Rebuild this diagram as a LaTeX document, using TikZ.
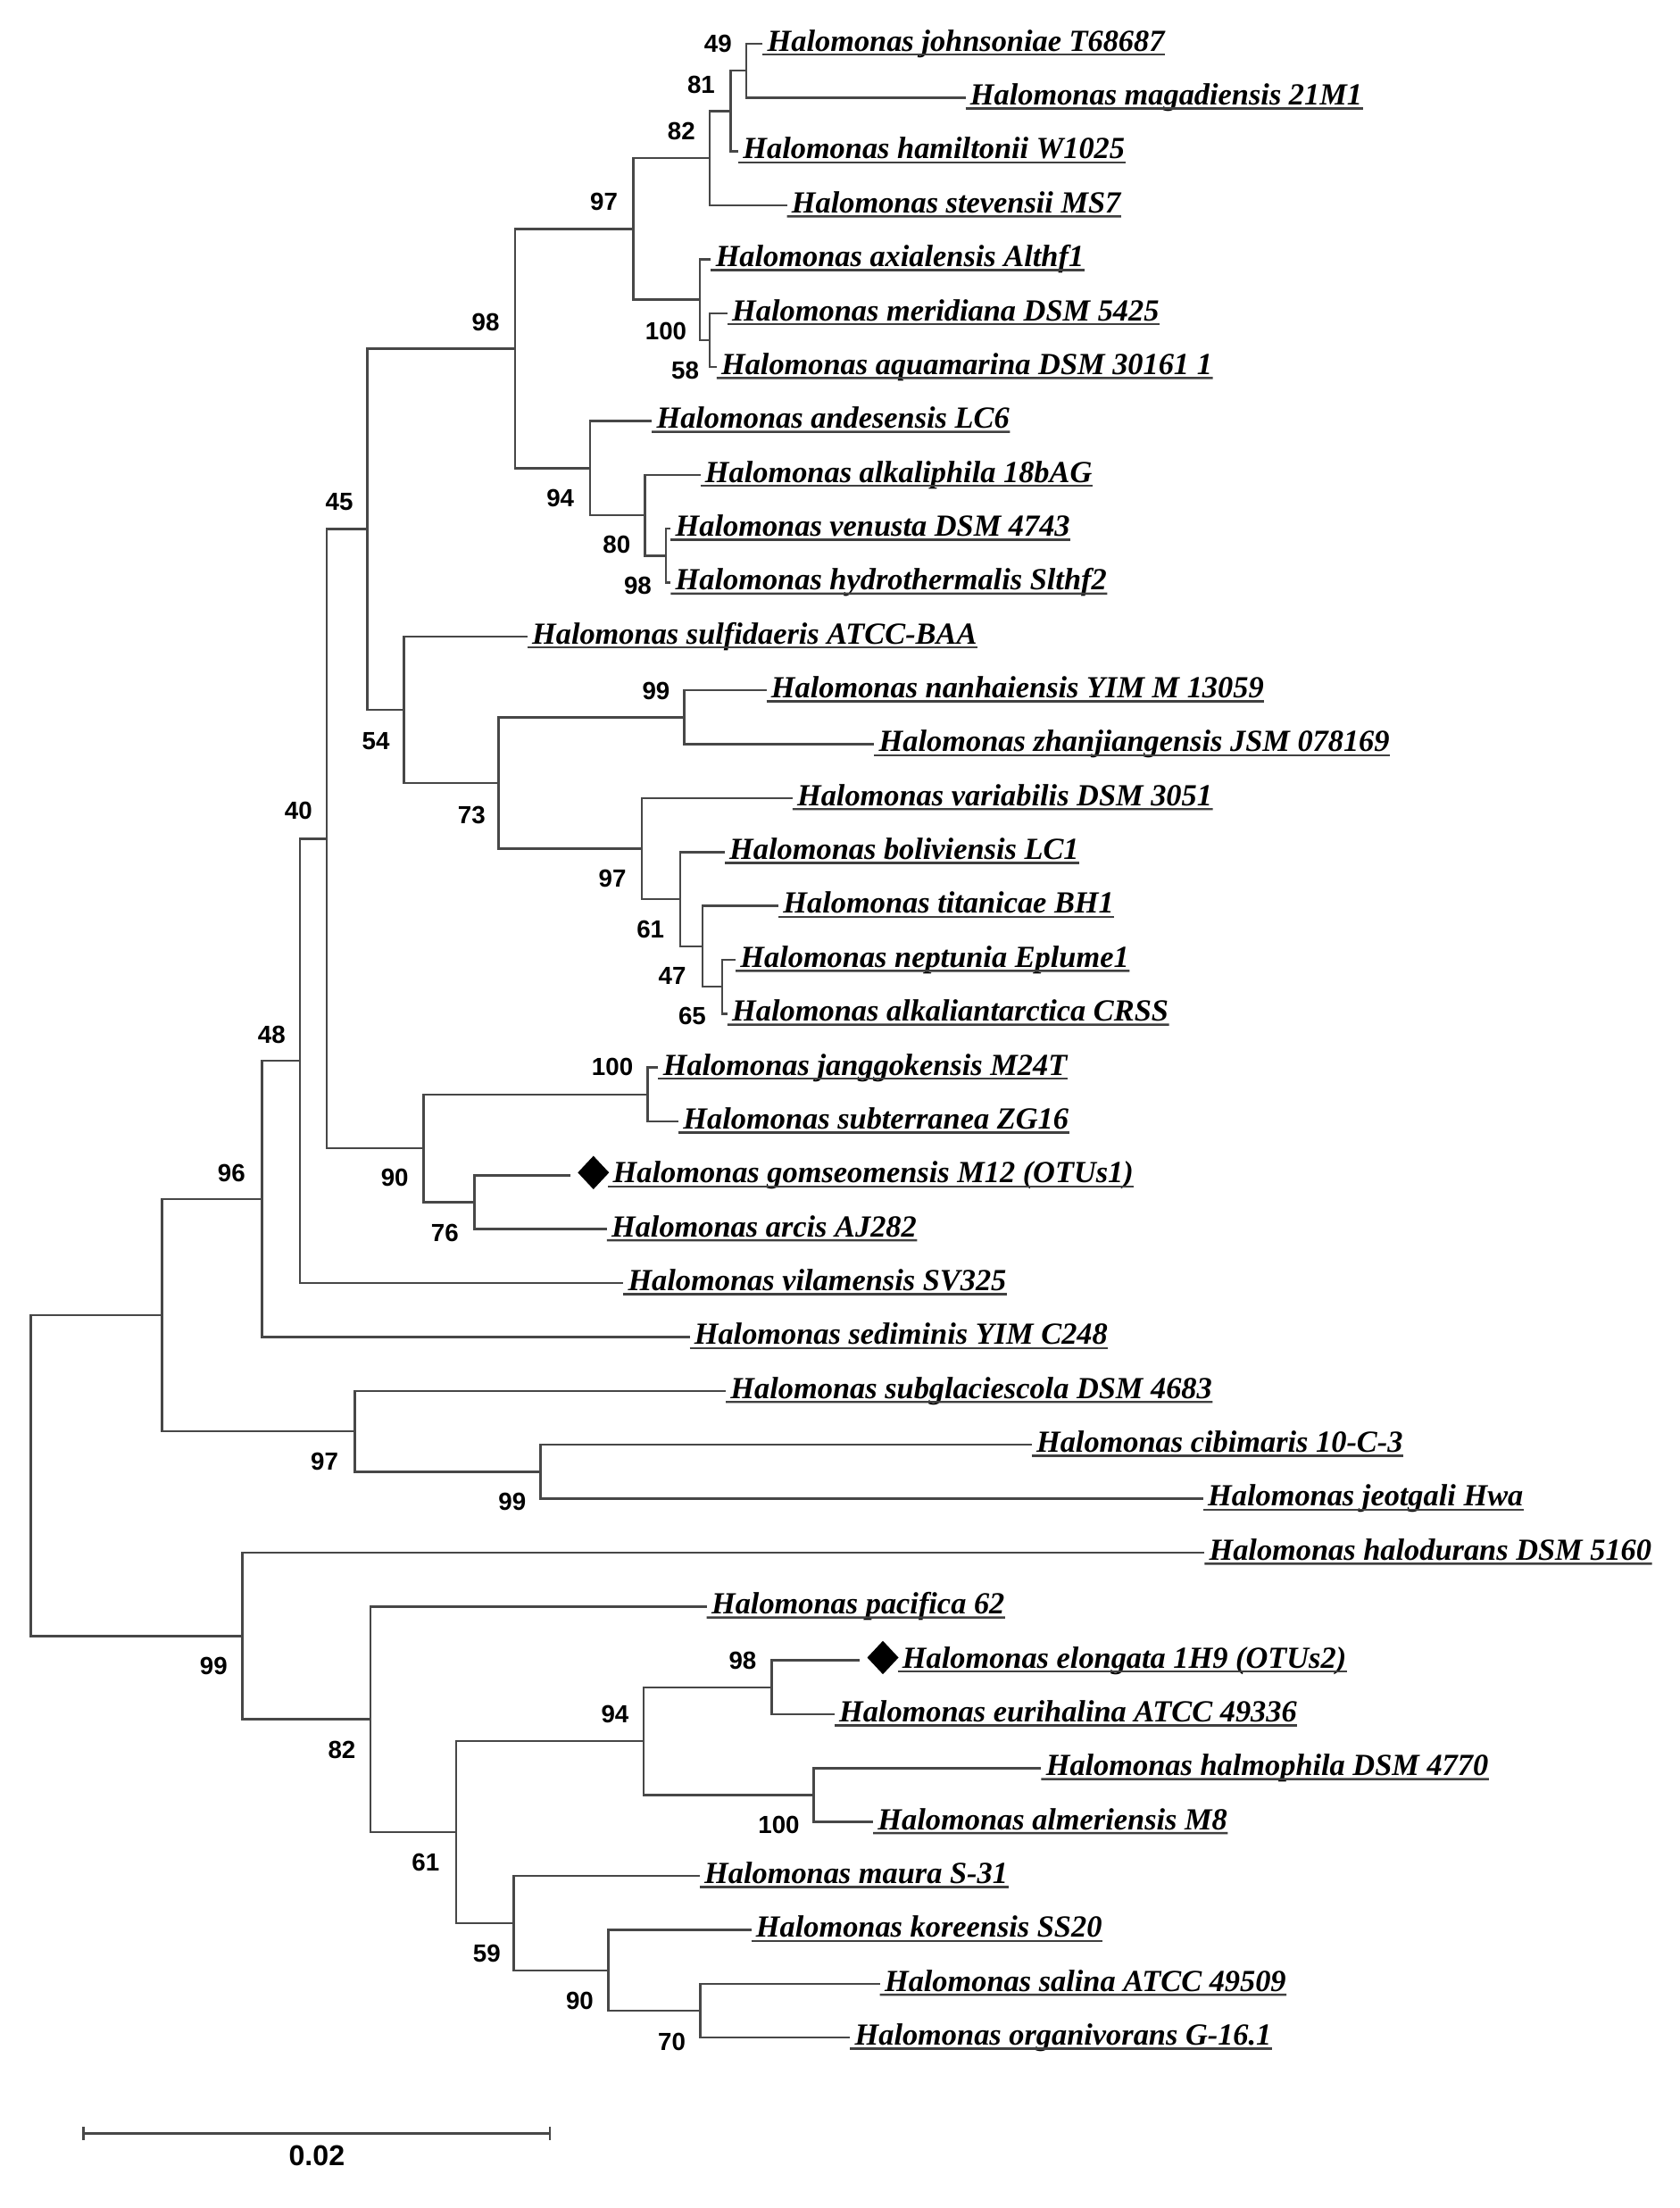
\documentclass[tikz,border=0pt]{standalone}
\usepackage{fontspec}
\setmainfont{Liberation Serif}
\newfontfamily\bsfont{Liberation Sans}
\usetikzlibrary{calc,shapes.geometric}
\tikzset{
  br/.style={draw=black!72, line width=0.9pt},
  leaflab/.style={anchor=base west, inner sep=0pt, font=\fontsize{12.4pt}{14pt}\selectfont\bfseries\itshape},
  uline/.style={draw=black!75, line width=0.9pt},
  boot/.style={inner sep=0pt, font=\bsfont\fontsize{10pt}{11pt}\selectfont\bfseries},
  scalelab/.style={inner sep=0pt, font=\bsfont\fontsize{11.6pt}{13pt}\selectfont\bfseries},
  dia/.style={diamond, fill=black, draw=none, inner sep=0pt, minimum width=0.45cm, minimum height=0.48cm}
}
% leaf: name, branch-end x, y, text
\newcommand\leafnode[4]{%
  \coordinate (#1) at (#2,#3);
  \node[leaflab] (#1-t) at (#2+3,#3+5.3) {Halomonas #4};
  \draw[uline] ($(#1)+(0,7.8)$) -- ($(#1-t.base east)+(0,2.5)$);
}
% marked leaf with a diamond
\newcommand\markleaf[4]{%
  \coordinate (#1) at (#2,#3);
  \node[dia] (#1-d) at (#2+16.5,#3-2) {};
  \node[leaflab] (#1-t) at (#2+30,#3+5.3) {Halomonas #4};
  \draw[uline] ($(#1-t.base west)+(-3,2.5)$) -- ($(#1-t.base east)+(0,2.5)$);
}
% clade: parent, child 1, child 2
\newcommand\clade[3]{\draw[br] (#2) -| (#1) |- (#3);}
\begin{document}
\begin{tikzpicture}[x=0.02cm,y=-0.02cm]
\useasboundingbox (0,0) rectangle (1193,1568);
\fill[white] (0,0) rectangle (1193,1568);
% leaves
\leafnode{joh}{541.7}{31.0}{johnsoniae T68687}
\leafnode{mag}{685.8}{69.3}{magadiensis 21M1}
\leafnode{ham}{524.4}{107.5}{hamiltonii W1025}
\leafnode{ste}{559}{145.8}{stevensii MS7}
\leafnode{axi}{505}{184.1}{axialensis Althf1}
\leafnode{mer}{516.7}{222.4}{meridiana DSM 5425}
\leafnode{aqu}{509}{260.6}{aquamarina DSM 30161 1}
\leafnode{ande}{463}{298.9}{andesensis LC6}
\leafnode{alk}{497.5}{337.2}{alkaliphila 18bAG}
\leafnode{ven}{476.4}{375.4}{venusta DSM 4743}
\leafnode{hyd}{476.4}{413.7}{hydrothermalis Slthf2}
\leafnode{sul}{374.6}{452.0}{sulfidaeris ATCC-BAA}
\leafnode{nan}{544.4}{490.2}{nanhaiensis YIM M 13059}
\leafnode{zha}{621}{528.5}{zhanjiangensis JSM 078169}
\leafnode{var}{562.9}{566.8}{variabilis DSM 3051}
\leafnode{bol}{514.8}{605.1}{boliviensis LC1}
\leafnode{tit}{553}{643.3}{titanicae BH1}
\leafnode{nep}{522.5}{681.6}{neptunia Eplume1}
\leafnode{aan}{516.7}{719.9}{alkaliantarctica CRSS}
\leafnode{jan}{467.6}{758.1}{janggokensis M24T}
\leafnode{sub}{482}{796.4}{subterranea ZG16}
\markleaf{gom}{405}{834.7}{gomseomensis M12 (OTUs1)}
\leafnode{arc}{431}{872.9}{arcis AJ282}
\leafnode{vil}{442.7}{911.2}{vilamensis SV325}
\leafnode{sed}{489.8}{949.5}{sediminis YIM C248}
\leafnode{sgl}{515.6}{987.8}{subglaciescola DSM 4683}
\leafnode{cib}{732.8}{1026.0}{cibimaris 10-C-3}
\leafnode{jeo}{854.6}{1064.3}{jeotgali Hwa}
\leafnode{hdu}{855.5}{1102.6}{halodurans DSM 5160}
\leafnode{pac}{502}{1140.8}{pacifica 62}
\markleaf{elo}{610.6}{1179.1}{elongata 1H9 (OTUs2)}
\leafnode{eur}{592.7}{1217.4}{eurihalina ATCC 49336}
\leafnode{hal}{739.6}{1255.6}{halmophila DSM 4770}
\leafnode{alm}{620.2}{1293.9}{almeriensis M8}
\leafnode{mau}{497}{1332.2}{maura S-31}
\leafnode{kor}{533.6}{1370.5}{koreensis SS20}
\leafnode{sal}{625}{1408.7}{salina ATCC 49509}
\leafnode{org}{603.8}{1447.0}{organivorans G-16.1}
% internal nodes
\coordinate (n49) at (530,50.15);
\coordinate (n81) at (519,78.8);
\coordinate (n82a) at (504,112.3);
\coordinate (n58) at (504,241.5);
\coordinate (n100a) at (497,212.8);
\coordinate (n97a) at (450,162.55);
\coordinate (n98b) at (473,394.55);
\coordinate (n80) at (458,365.9);
\coordinate (n94a) at (419,332.4);
\coordinate (n98a) at (366,247.5);
\coordinate (n99a) at (486,509.35);
\coordinate (n65) at (513,700.75);
\coordinate (n47) at (499,672.0);
\coordinate (n61a) at (483,638.55);
\coordinate (n97b) at (456,602.7);
\coordinate (n73) at (354,556.0);
\coordinate (n54) at (287,504.0);
\coordinate (n45) at (261,375.75);
\coordinate (n100b) at (460,777.25);
\coordinate (n76) at (337,853.8);
\coordinate (n90a) at (301,815.5);
\coordinate (n40) at (232,595.6);
\coordinate (n48) at (213,753.4);
\coordinate (n96) at (186,851.45);
\coordinate (n99b) at (384,1045.15);
\coordinate (n97c) at (252,1016.5);
\coordinate (nA) at (115,934.0);
\coordinate (n98c) at (548,1198.25);
\coordinate (n100c) at (578,1274.75);
\coordinate (n94b) at (457,1236.5);
\coordinate (n70) at (497.5,1427.85);
\coordinate (n90b) at (432,1399.2);
\coordinate (n59) at (365,1365.7);
\coordinate (n61b) at (324,1301.1);
\coordinate (n82b) at (263,1220.95);
\coordinate (n99c) at (172,1161.8);
\coordinate (root) at (22,1047.9);
% branches
\clade{n49}{joh}{mag}
\clade{n81}{n49}{ham}
\clade{n82a}{n81}{ste}
\clade{n58}{mer}{aqu}
\clade{n100a}{axi}{n58}
\clade{n97a}{n82a}{n100a}
\clade{n98b}{ven}{hyd}
\clade{n80}{alk}{n98b}
\clade{n94a}{ande}{n80}
\clade{n98a}{n97a}{n94a}
\clade{n99a}{nan}{zha}
\clade{n65}{nep}{aan}
\clade{n47}{tit}{n65}
\clade{n61a}{bol}{n47}
\clade{n97b}{var}{n61a}
\clade{n73}{n99a}{n97b}
\clade{n54}{sul}{n73}
\clade{n45}{n98a}{n54}
\clade{n100b}{jan}{sub}
\clade{n76}{gom}{arc}
\clade{n90a}{n100b}{n76}
\clade{n40}{n45}{n90a}
\clade{n48}{n40}{vil}
\clade{n96}{n48}{sed}
\clade{n99b}{cib}{jeo}
\clade{n97c}{sgl}{n99b}
\clade{nA}{n96}{n97c}
\clade{n98c}{elo}{eur}
\clade{n100c}{hal}{alm}
\clade{n94b}{n98c}{n100c}
\clade{n70}{sal}{org}
\clade{n90b}{kor}{n70}
\clade{n59}{mau}{n90b}
\clade{n61b}{n94b}{n59}
\clade{n82b}{pac}{n61b}
\clade{n99c}{hdu}{n82b}
\clade{root}{nA}{n99c}
% bootstrap values
\node[boot] (b49) at (510,31.1) {49};
\node[boot] (b81) at (498,60) {81};
\node[boot] (b82a) at (484,93.4) {82};
\node[boot] (b97a) at (429,143) {97};
\node[boot] (b98a) at (345,228.6) {98};
\node[boot] (b100a) at (473,235) {100};
\node[boot] (b58) at (486.7,263) {58};
\node[boot] (b94a) at (398,353.7) {94};
\node[boot] (b80) at (438,387) {80};
\node[boot] (b98b) at (453,416) {98};
\node[boot] (b45) at (241,356.5) {45};
\node[boot] (b99a) at (466,491) {99};
\node[boot] (b54) at (267,526.6) {54};
\node[boot] (b73) at (335,579) {73};
\node[boot] (b40) at (212,576) {40};
\node[boot] (b97b) at (435,624) {97};
\node[boot] (b61a) at (462,660) {61};
\node[boot] (b47) at (477.5,693) {47};
\node[boot] (b65) at (491.7,721.8) {65};
\node[boot] (b48) at (193,734.6) {48};
\node[boot] (b100b) at (435,757.8) {100};
\node[boot] (b96) at (164.4,832.8) {96};
\node[boot] (b90a) at (280.4,836.4) {90};
\node[boot] (b76) at (316,875.8) {76};
\node[boot] (b97c) at (230.5,1037.6) {97};
\node[boot] (b99b) at (363.8,1066.5) {99};
\node[boot] (b99c) at (151.7,1182.8) {99};
\node[boot] (b82b) at (242.8,1242.8) {82};
\node[boot] (b94b) at (436.8,1217.3) {94};
\node[boot] (b98c) at (527.5,1179) {98};
\node[boot] (b100c) at (553.2,1295.9) {100};
\node[boot] (b61b) at (302.3,1322.6) {61};
\node[boot] (b59) at (345.8,1387.4) {59};
\node[boot] (b90b) at (411.8,1421) {90};
\node[boot] (b70) at (477.2,1450) {70};
% scale bar
\coordinate (sbL) at (59.2,1515);
\coordinate (sbR) at (390.7,1515);
\draw[br] (sbL) -- (sbR);
\draw[br] ($(sbL)+(0,-4.5)$) -- ($(sbL)+(0,4.5)$);
\draw[br] ($(sbR)+(0,-4.5)$) -- ($(sbR)+(0,4.5)$);
\node[scalelab] (sbt) at (225,1531) {0.02};
\end{tikzpicture}
\end{document}
